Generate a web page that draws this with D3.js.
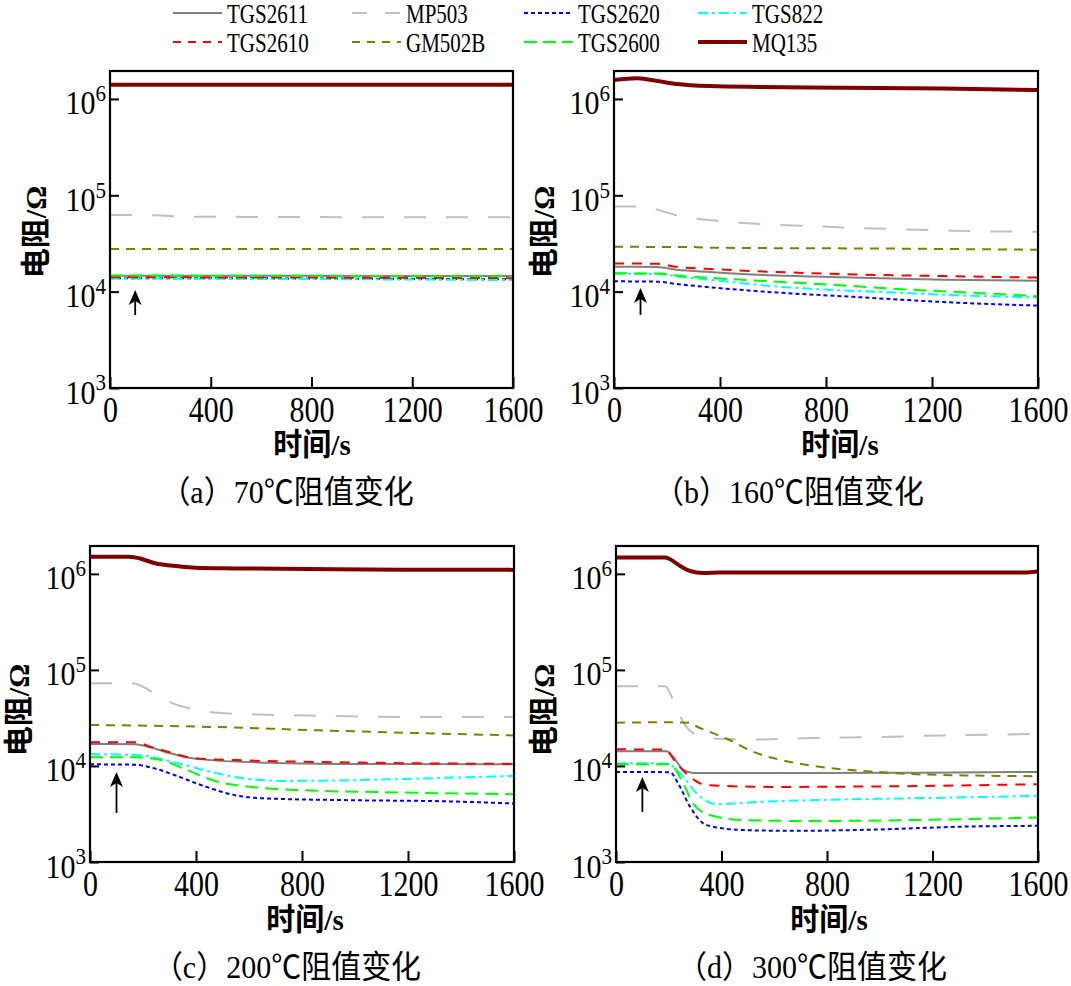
<!DOCTYPE html>
<html><head><meta charset="utf-8">
<script src="https://cdn.jsdelivr.net/npm/d3@7"></script>
<style>
html,body{margin:0;padding:0;background:#fff;}
svg{display:block;}
</style></head>
<body>
<svg id="chart" width="1071" height="986"></svg>
<script>
// ---------------- DATA ----------------
const sensors = ["TGS2611","MP503","TGS2620","TGS822","TGS2610","GM502B","TGS2600","MQ135"];
const captions = ["（a）70℃阻值变化","（b）160℃阻值变化","（c）200℃阻值变化","（d）300℃阻值变化"];
const xTicks = [0,400,800,1200,1600];
const yTicks = [1e3,1e4,1e5,1e6];
const yTitle = "电阻/Ω";
const xTitle = "时间/s";
// arrow annotations [time, tail value, tip value]
const arrows = [[100,5.73e3,1.04e4],[100,5.73e3,1.09e4],[100,3.24e3,8.65e3],[100,3.32e3,7.67e3]];

// (a) 70 C   [time s, resistance Ohm]
const a_TGS2611 = [[0,1.46e4],[800,1.46e4],[1600,1.45e4]];
const a_MP503   = [[0,6.25e4],[180,6.2e4],[300,6.0e4],[1600,5.9e4]];
const a_TGS2620 = [[0,1.38e4],[800,1.37e4],[1600,1.34e4]];
const a_TGS822  = [[0,1.37e4],[800,1.35e4],[1600,1.32e4]];
const a_TGS2610 = [[0,1.41e4],[800,1.40e4],[1600,1.38e4]];
const a_GM502B  = [[0,2.77e4],[1600,2.77e4]];
const a_TGS2600 = [[0,1.47e4],[800,1.46e4],[1600,1.44e4]];
const a_MQ135   = [[0,1.40e6],[1600,1.40e6]];

// (b) 160 C
const b_TGS2611 = [[0,1.81e4],[161,1.80e4],[237,1.69e4],[362,1.60e4],[614,1.47e4],[865,1.41e4],[1243,1.33e4],[1600,1.30e4]];
const b_MP503   = [[0,7.66e4],[86,7.66e4],[174,6.97e4],[237,6.17e4],[312,5.70e4],[388,5.44e4],[488,5.15e4],[677,4.87e4],[865,4.64e4],[1054,4.46e4],[1243,4.32e4],[1431,4.21e4],[1600,4.19e4]];
const b_TGS2620 = [[0,1.28e4],[161,1.27e4],[237,1.20e4],[362,1.11e4],[614,9.8e3],[865,8.96e3],[1243,7.8e3],[1600,7.16e3]];
const b_TGS822  = [[0,1.54e4],[174,1.52e4],[237,1.44e4],[362,1.33e4],[614,1.13e4],[865,1.03e4],[1054,9.8e3],[1243,9.3e3],[1600,8.7e3]];
const b_TGS2610 = [[0,1.96e4],[161,1.95e4],[237,1.81e4],[362,1.72e4],[614,1.60e4],[865,1.52e4],[1243,1.45e4],[1600,1.40e4]];
const b_GM502B  = [[0,2.92e4],[300,2.90e4],[362,2.86e4],[1117,2.79e4],[1600,2.72e4]];
const b_TGS2600 = [[0,1.55e4],[174,1.54e4],[237,1.47e4],[362,1.39e4],[614,1.27e4],[865,1.16e4],[1117,1.05e4],[1369,9.7e3],[1600,8.98e3]];
const b_MQ135   = [[0,1.57e6],[86,1.64e6],[148,1.56e6],[237,1.43e6],[362,1.36e6],[551,1.33e6],[865,1.31e6],[1243,1.28e6],[1600,1.24e6]];

// (c) 200 C
const c_TGS2611 = [[0,1.69e4],[170,1.68e4],[233,1.55e4],[296,1.37e4],[359,1.24e4],[459,1.15e4],[673,1.08e4],[925,1.05e4],[1600,1.04e4]];
const c_MP503   = [[0,7.28e4],[157,7.28e4],[182,7.05e4],[220,6.2e4],[308,4.54e4],[384,3.93e4],[484,3.58e4],[673,3.41e4],[862,3.33e4],[1239,3.23e4],[1600,3.23e4]];
const c_TGS2620 = [[0,1.04e4],[170,1.03e4],[233,9.6e3],[321,8.0e3],[421,6.3e3],[547,4.96e3],[673,4.58e3],[988,4.4e3],[1365,4.27e3],[1600,4.06e3]];
const c_TGS822  = [[0,1.33e4],[195,1.29e4],[270,1.18e4],[359,1.02e4],[484,8.32e3],[585,7.39e3],[736,6.99e3],[988,7.1e3],[1239,7.39e3],[1600,7.88e3]];
const c_TGS2610 = [[0,1.77e4],[170,1.76e4],[233,1.57e4],[296,1.40e4],[396,1.20e4],[547,1.15e4],[862,1.10e4],[1600,1.05e4]];
const c_GM502B  = [[0,2.67e4],[484,2.54e4],[862,2.35e4],[1239,2.20e4],[1600,2.08e4]];
const c_TGS2600 = [[0,1.23e4],[170,1.23e4],[270,1.15e4],[359,9.23e3],[484,6.82e3],[610,6.05e3],[799,5.59e3],[1113,5.33e3],[1600,5.08e3]];
const c_MQ135   = [[0,1.51e6],[145,1.51e6],[182,1.46e6],[245,1.29e6],[333,1.20e6],[396,1.16e6],[547,1.14e6],[1050,1.11e6],[1600,1.10e6]];

// (d) 300 C
const d_TGS2611 = [[0,1.42e4],[192,1.42e4],[217,1.24e4],[255,9.16e3],[293,8.46e3],[1115,8.5e3],[1600,8.67e3]];
const d_MP503   = [[0,6.76e4],[186,6.76e4],[224,4.36e4],[255,2.86e4],[318,2.05e4],[394,1.92e4],[546,1.89e4],[736,1.95e4],[988,2.0e4],[1241,2.08e4],[1600,2.15e4]];
const d_TGS2620 = [[0,8.67e3],[205,8.6e3],[236,6.56e3],[281,3.75e3],[344,2.42e3],[483,2.15e3],[672,2.11e3],[988,2.18e3],[1304,2.33e3],[1600,2.38e3]];
const d_TGS822  = [[0,1.07e4],[192,1.06e4],[255,7.69e3],[306,5.16e3],[382,4.0e3],[546,4.23e3],[862,4.48e3],[1241,4.66e3],[1600,4.89e3]];
const d_TGS2610 = [[0,1.49e4],[186,1.48e4],[230,1.06e4],[281,7.69e3],[344,6.3e3],[609,6.05e3],[988,6.12e3],[1600,6.46e3]];
const d_GM502B  = [[0,2.82e4],[180,2.85e4],[281,2.82e4],[293,2.69e4],[356,2.26e4],[420,1.92e4],[521,1.40e4],[647,1.12e4],[799,9.6e3],[988,8.67e3],[1178,8.13e3],[1600,7.82e3]];
const d_TGS2600 = [[0,1.04e4],[205,1.04e4],[249,7.1e3],[293,4.06e3],[356,3.08e3],[483,2.73e3],[736,2.67e3],[1115,2.73e3],[1600,2.91e3]];
const d_MQ135   = [[0,1.48e6],[186,1.48e6],[205,1.42e6],[243,1.21e6],[281,1.07e6],[331,1.02e6],[394,1.03e6],[1532,1.03e6],[1600,1.06e6]];

const panelSeries = [
  [a_TGS2611,a_MP503,a_TGS2620,a_TGS822,a_TGS2610,a_GM502B,a_TGS2600,a_MQ135],
  [b_TGS2611,b_MP503,b_TGS2620,b_TGS822,b_TGS2610,b_GM502B,b_TGS2600,b_MQ135],
  [c_TGS2611,c_MP503,c_TGS2620,c_TGS822,c_TGS2610,c_GM502B,c_TGS2600,c_MQ135],
  [d_TGS2611,d_MP503,d_TGS2620,d_TGS822,d_TGS2610,d_GM502B,d_TGS2600,d_MQ135]
];

// ---------------- STYLES / LAYOUT ----------------
const styles = {
  TGS2611:{color:"#808080", w:2,   dash:null,        ldash:null},
  MP503:  {color:"#c0c0c0", w:2,   dash:"22,20",     ldash:"15,18"},
  TGS2620:{color:"#0000ff", w:2,   dash:"4,3",       ldash:"4,3"},
  TGS822: {color:"#00ffff", w:2,   dash:"10,4,3,4",  ldash:"10,4,3,4"},
  TGS2610:{color:"#ff0000", w:2,   dash:"10,8",      ldash:"8,7"},
  GM502B: {color:"#808000", w:2,   dash:"9,7",       ldash:"8,7"},
  TGS2600:{color:"#00ff00", w:2,   dash:"13,7",      ldash:"13,6"},
  MQ135:  {color:"#800000", w:4,   dash:null,        ldash:null}
};
const layout = [
  {x0:110, x1:513,  y0:71,  y1:388, yt:[35,232],  xt:[312,445], cap:[287,493]},
  {x0:614, x1:1038, y0:71,  y1:388, yt:[543,232], xt:[840,445], cap:[789,493]},
  {x0:90,  x1:514,  y0:546, y1:862, yt:[18,710],  xt:[305,920], cap:[287,968]},
  {x0:616, x1:1038, y0:546, y1:862, yt:[543,710], xt:[829,920], cap:[812,968]}
];
const SERIF = "'Liberation Serif','Times New Roman','Noto Sans CJK SC',serif";
const yMax = 1.95e6;
const KX = 1.17, KY = 1.1, KL = 1.25, KT = 1.05; // vertical stretch of text

const svg = d3.select("#chart");

function stretchedText(parent, x, y, k, str) {
  return parent.append("text")
    .attr("transform", `translate(${x},${y}) scale(1,${k})`)
    .text(str);
}

layout.forEach((L, pi) => {
  const x = d3.scaleLinear().domain([0,1600]).range([L.x0, L.x1]);
  const y = d3.scaleLog().domain([1e3, yMax]).range([L.y1, L.y0]);
  const g = svg.append("g");

  // lines
  const line = d3.line().x(d => x(d[0])).y(d => y(d[1])).curve(d3.curveMonotoneX);
  panelSeries[pi].forEach((data, si) => {
    const st = styles[sensors[si]];
    g.append("path").datum(data)
      .attr("d", line)
      .attr("fill","none")
      .attr("stroke", st.color)
      .attr("stroke-width", st.w)
      .attr("stroke-dasharray", st.dash)
      .attr("stroke-linejoin","round");
  });

  // frame
  g.append("rect").attr("x",L.x0).attr("y",L.y0)
    .attr("width",L.x1-L.x0).attr("height",L.y1-L.y0)
    .attr("fill","none").attr("stroke","#000").attr("stroke-width",2.2);

  // x axis
  const xa = g.append("g").attr("transform",`translate(0,${L.y1})`)
    .call(d3.axisBottom(x).tickValues(xTicks).tickSize(-11).tickSizeOuter(0).tickFormat(d3.format("d")));
  xa.select(".domain").remove();
  xa.selectAll(".tick line").attr("stroke","#000").attr("stroke-width",2);
  xa.selectAll(".tick text").attr("y",34/KX).attr("dy",0)
    .attr("transform",`scale(1,${KX})`)
    .attr("font-family",SERIF).attr("font-size",30).attr("fill","#000");

  // y axis
  const ya = g.append("g").attr("transform",`translate(${L.x0},0)`)
    .call(d3.axisLeft(y).tickValues(yTicks).tickSize(-9).tickSizeOuter(0).tickPadding(4));
  ya.select(".domain").remove();
  ya.selectAll(".tick line").attr("stroke","#000").attr("stroke-width",2);
  ya.selectAll(".tick text").each(function(d){
    const t = d3.select(this);
    t.text(null).attr("dy",0).attr("y",15/KY).attr("transform",`scale(1,${KY})`)
      .attr("font-family",SERIF).attr("font-size",30).attr("fill","#000");
    t.append("tspan").text("10");
    t.append("tspan").attr("dy",-12).attr("font-size",21).text(Math.round(Math.log10(d)));
  });

  // arrow
  const A = arrows[pi];
  const ax = x(A[0]), yTail = y(A[1]), yTip = y(A[2]);
  g.append("line").attr("x1",ax).attr("x2",ax).attr("y1",yTail).attr("y2",yTip+10)
    .attr("stroke","#000").attr("stroke-width",1.8);
  g.append("path")
    .attr("d",`M${ax},${yTip} L${ax-6.5},${yTip+15} L${ax},${yTip+11} L${ax+6.5},${yTip+15} Z`)
    .attr("fill","#000");

  // titles
  svg.append("text").attr("transform",`translate(${L.yt[0]},${L.yt[1]}) rotate(-90)`)
    .attr("text-anchor","middle").attr("dominant-baseline","central")
    .attr("font-family",SERIF).attr("font-size",30).attr("font-weight","bold").text(yTitle);
  stretchedText(svg, L.xt[0], L.xt[1], KT, xTitle)
    .attr("text-anchor","middle").attr("dominant-baseline","central")
    .attr("font-family",SERIF).attr("font-size",29).attr("font-weight","bold");
  stretchedText(svg, L.cap[0], L.cap[1], KT, captions[pi])
    .attr("text-anchor","middle").attr("dominant-baseline","central")
    .attr("font-family",SERIF).attr("font-size",30);
});

// legend
const legX = [173,352,524,698];
const legY = [13,42];
sensors.forEach((s, i) => {
  const col = i % 4, row = Math.floor(i / 4);
  const st = styles[s];
  const lx = legX[col], ly = legY[row];
  svg.append("line").attr("x1",lx).attr("x2",lx+49).attr("y1",ly).attr("y2",ly)
    .attr("stroke",st.color).attr("stroke-width",st.w).attr("stroke-dasharray",st.ldash);
  stretchedText(svg, lx+54, ly+1, KL, s).attr("dominant-baseline","central")
    .attr("font-family",SERIF).attr("font-size",21).attr("fill","#000");
});
</script>
</body></html>
